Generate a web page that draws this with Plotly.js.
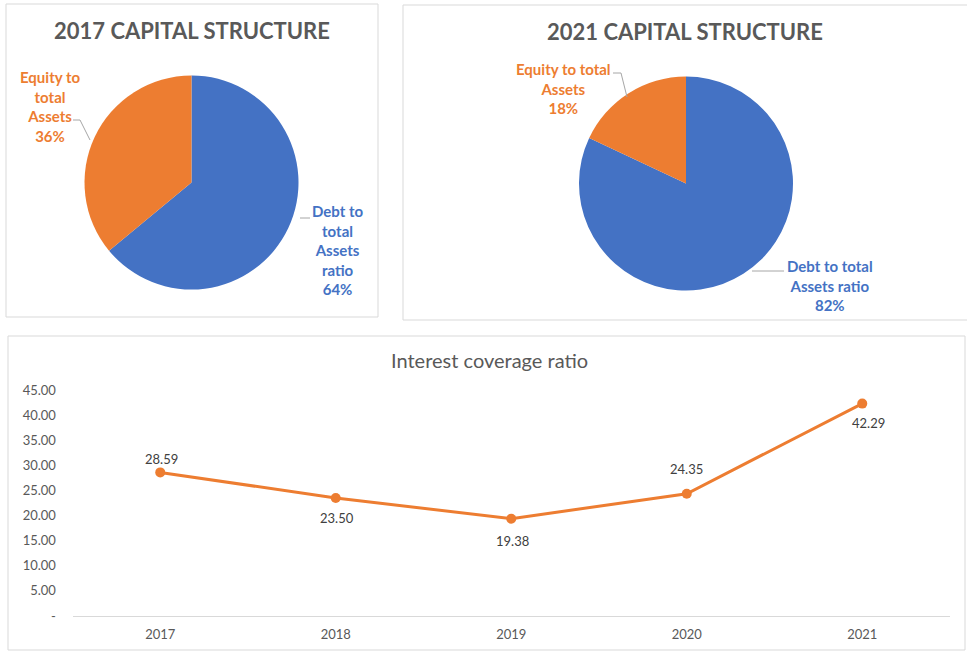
<!DOCTYPE html>
<html>
<head>
<meta charset="utf-8">
<script src="https://cdn.plot.ly/plotly-3.0.1.min.js"></script>
<style>
  html, body { margin: 0; padding: 0; background: #ffffff; }
  #chart { width: 967px; height: 651px; }
</style>
</head>
<body>
<div id="chart"></div>
<script>
// ---- data ----
const pieLabels = ['Debt to total Assets ratio', 'Equity to total Assets'];
const share2017 = [64, 36];
const share2021 = [82, 18];
const pieColors = ['#4472C4', '#ED7D31'];

const years = ['2017', '2018', '2019', '2020', '2021'];
const coverage = [28.59, 23.50, 19.38, 24.35, 42.29];

const yTickVals = [0, 5, 10, 15, 20, 25, 30, 35, 40, 45];
const yTickText = ['-', '5.00', '10.00', '15.00', '20.00', '25.00', '30.00', '35.00', '40.00', '45.00'];

// ---- styling (label offsets in pixels, per point) ----
const labelDy = [13, -20, -22, 25, -19];
const labelDx = [1, 1, 1, 0, 6];

// ---- helpers ----
const W = 967, H = 651;
const px = x => x / W;
const py = y => 1 - y / H;

function wrap(text, maxChars) {
  const words = text.split(' ');
  const lines = [];
  let cur = '';
  words.forEach(w => {
    const next = cur ? cur + ' ' + w : w;
    if (next.length > maxChars && cur) { lines.push(cur); cur = w; }
    else cur = next;
  });
  if (cur) lines.push(cur);
  return lines.join('<br>');
}
function pieText(i, shares, width) {
  return wrap(pieLabels[i], width) + '<br>' + shares[i] + '%';
}

const FONT = 'Lato, "Open Sans", sans-serif';
const R = 107;

function pieTrace(shares, cx, cy) {
  return {
    type: 'pie',
    labels: pieLabels,
    values: shares,
    sort: false,
    direction: 'clockwise',
    rotation: 0,
    textinfo: 'none',
    hoverinfo: 'label+percent',
    showlegend: false,
    marker: { colors: pieColors, line: { width: 0 } },
    domain: { x: [px(cx - R), px(cx + R)], y: [py(cy + R), py(cy - R)] }
  };
}

const traces = [
  pieTrace(share2017, 191.5, 182.5),
  pieTrace(share2021, 686, 183.5),
  {
    type: 'scatter',
    mode: 'lines+markers',
    x: years,
    y: coverage,
    line: { color: '#ED7D31', width: 3 },
    marker: { color: '#ED7D31', size: 10 },
    cliponaxis: false,
    showlegend: false,
    xaxis: 'x',
    yaxis: 'y'
  }
];

function border(x0, y0, x1, y1) {
  return { type: 'rect', xref: 'paper', yref: 'paper', x0: px(x0), y0: py(y1), x1: px(x1), y1: py(y0),
           line: { color: '#D9D9D9', width: 1 }, fillcolor: 'rgba(0,0,0,0)', layer: 'below' };
}
function leader(points) {
  const d = points.map((p, i) => (i ? 'L' : 'M') + px(p[0]) + ',' + py(p[1])).join(' ');
  return { type: 'path', xref: 'paper', yref: 'paper', path: d, line: { color: '#A6A6A6', width: 1 } };
}

function lab(text, x, y, color) {
  return { xref: 'paper', yref: 'paper', x: px(x), y: py(y), xanchor: 'center', yanchor: 'middle',
           showarrow: false, text: text, align: 'center',
           font: { family: FONT, size: 15, color: color, weight: 'bold' } };
}

// data labels: category index on the x axis, value on the y axis
const dataLabels = years.map((yr, i) => ({
  xref: 'x', yref: 'y', x: i, y: coverage[i], xanchor: 'center', yanchor: 'middle',
  xshift: labelDx[i], yshift: labelDy[i], showarrow: false,
  text: coverage[i].toFixed(2),
  font: { family: FONT, size: 13, color: '#404040' }
}));

const layout = {
  width: W, height: H,
  margin: { l: 0, r: 0, t: 0, b: 0 },
  paper_bgcolor: '#ffffff',
  plot_bgcolor: '#ffffff',
  font: { family: FONT },
  xaxis: {
    type: 'category',
    domain: [px(72.5), px(950)],
    range: [-0.5, 4.5],
    anchor: 'y',
    showgrid: false, zeroline: false,
    showline: true, linecolor: '#D9D9D9', linewidth: 1,
    ticks: 'outside', ticklen: 6, tickcolor: 'rgba(0,0,0,0)',
    tickfont: { family: FONT, size: 13, color: '#595959' },
    fixedrange: true
  },
  yaxis: {
    domain: [py(616), py(390)],
    range: [0, 45],
    anchor: 'x',
    tickvals: yTickVals,
    ticktext: yTickText,
    showgrid: false, zeroline: false, showline: false,
    ticks: 'outside', ticklen: 13, tickcolor: 'rgba(0,0,0,0)',
    tickfont: { family: FONT, size: 13, color: '#595959' },
    fixedrange: true
  },
  shapes: [
    border(6, 4, 378, 317),
    border(403, 5, 970, 320),
    border(8, 336, 965, 650),
    leader([[73, 120], [80, 120], [90, 140]]),
    leader([[300, 218], [310, 218]]),
    leader([[613, 73], [621, 73], [627, 97]]),
    leader([[752, 271], [784, 271]])
  ],
  annotations: [
    { xref: 'paper', yref: 'paper', x: px(191.5), y: py(30), xanchor: 'center', yanchor: 'middle', showarrow: false,
      text: '2017 CAPITAL STRUCTURE', font: { family: FONT, size: 22, color: '#595959', weight: 'bold' } },
    { xref: 'paper', yref: 'paper', x: px(685), y: py(32), xanchor: 'center', yanchor: 'middle', showarrow: false,
      text: '2021 CAPITAL STRUCTURE', font: { family: FONT, size: 22, color: '#595959', weight: 'bold' } },
    { xref: 'paper', yref: 'paper', x: px(489), y: py(360), xanchor: 'center', yanchor: 'middle', showarrow: false,
      text: 'Interest coverage ratio', font: { family: FONT, size: 20, color: '#595959' } },
    lab(pieText(1, share2017, 10), 50, 106, pieColors[1]),
    lab(pieText(0, share2017, 10), 337, 250.5, pieColors[0]),
    lab(pieText(1, share2021, 15), 563, 88.5, pieColors[1]),
    lab(pieText(0, share2021, 15), 830, 285, pieColors[0])
  ].concat(dataLabels)
};

Plotly.newPlot('chart', traces, layout, { displayModeBar: false, staticPlot: true });
</script>
</body>
</html>
